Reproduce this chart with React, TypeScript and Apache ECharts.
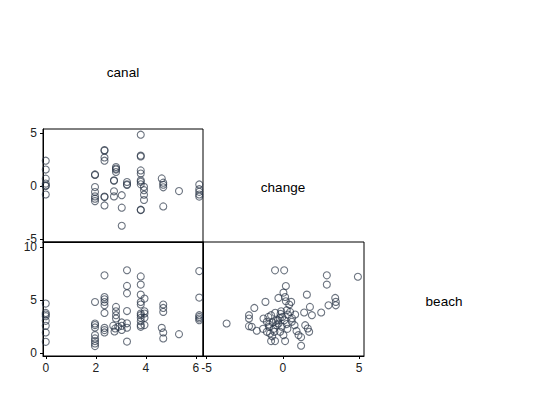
import React, { useEffect, useRef } from "react";
import * as echarts from "echarts";

const variables = ["canal", "change", "beach"];
const canalTicks = [0, 2, 4, 6];
const changeTicks = [-5, 0, 5];
const beachTicks = [0, 5, 10];

// change (y) vs canal (x)
const canalChange: [number, number][] = [
  [0, 2.4], [0, 1.56], [0, 0.7], [0, 0.23], [0, 0], [0, 0.05], [0, -0.8],
  [1.97, 1.1], [1.97, 1.05], [1.97, -0.1], [1.97, -0.57], [1.97, -0.98], [1.97, -1.2], [1.97, -1.43],
  [2.35, 3.4], [2.35, 3.35], [2.35, 2.7], [2.35, 2.4], [2.35, -1.05], [2.35, -1.0], [2.35, -1.84],
  [2.73, 0.54], [2.73, 0.5], [2.73, -0.5], [2.73, -0.98],
  [2.81, 1.8], [2.81, 1.65], [2.81, 1.56], [2.81, 1.33],
  [3.04, -0.87], [3.04, -2.05], [3.04, -3.76],
  [3.25, 0.38], [3.25, 0.16], [3.25, 0.1],
  [3.8, 4.86], [3.8, 2.88], [3.8, 2.8], [3.8, 1.48], [3.8, 1.18], [3.8, 0.55], [3.8, 0.4], [3.8, 0.16], [3.8, -2.28], [3.8, -2.24],
  [3.93, -0.08], [3.93, -0.39], [3.93, -0.82], [3.93, -1.32],
  [4.64, 0.72], [4.7, 0.32], [4.7, 0.12], [4.7, -0.12], [4.7, -1.93],
  [5.33, -0.48],
  [6.14, 0.15], [6.14, -0.3], [6.14, -0.55], [6.14, -0.8], [6.14, -1.0],
];

// beach (y) vs canal (x)
const canalBeach: [number, number][] = [
  [0, 4.67], [0, 3.79], [0, 3.64], [0, 3.49], [0, 3.05], [0, 2.58], [0, 1.96], [0, 1.08],
  [1.97, 4.82], [1.97, 2.8], [1.97, 2.65], [1.97, 2.43], [1.97, 1.71], [1.97, 1.4], [1.97, 1.15], [1.97, 0.93], [1.97, 0.68],
  [2.35, 7.32], [2.35, 5.29], [2.35, 5.07], [2.35, 4.82], [2.35, 4.51], [2.35, 3.79], [2.35, 2.39], [2.35, 2.18], [2.35, 1.96],
  [2.81, 4.36], [2.81, 3.95], [2.81, 3.58], [2.81, 3.27],
  [2.7, 2.6], [2.78, 2.34], [2.9, 2.49], [3.04, 2.9], [3.04, 2.58], [3.04, 2.2], [2.75, 2.05],
  [3.25, 7.8], [3.25, 6.33], [3.25, 5.63], [3.25, 3.97], [3.25, 2.82], [3.25, 2.4], [3.25, 1.1],
  [3.8, 7.22], [3.8, 6.45], [3.8, 5.51], [3.8, 4.82], [3.8, 4.58], [3.8, 3.74], [3.8, 3.58], [3.8, 3.33], [3.8, 3.02], [3.8, 2.65], [3.8, 2.49],
  [3.95, 5.14], [3.95, 3.95], [3.95, 3.74], [3.95, 3.33], [3.95, 2.65],
  [4.7, 4.58], [4.7, 4.26], [4.7, 3.89], [4.64, 2.39], [4.7, 1.96], [4.7, 1.4],
  [5.33, 1.8],
  [6.14, 7.72], [6.14, 5.23], [6.14, 3.58], [6.14, 3.42], [6.14, 3.27], [6.14, 3.11],
];

// beach (y) vs change (x)
const changeBeach: [number, number][] = [
  [-3.69, 2.8], [-2.22, 3.58], [-2.22, 3.27], [-2.22, 2.55], [-2.04, 2.49], [-1.87, 4.26], [-1.71, 2.12],
  [-1.14, 4.83], [-1.27, 3.27], [-1.05, 2.96], [-0.95, 3.42], [-0.9, 2.49], [-0.77, 3.58], [-0.66, 2.89],
  [-0.77, 1.15], [-0.51, 1.15], [-0.55, 2.02], [-0.33, 3.11], [-0.29, 5.2], [-0.11, 3.95], [-0.03, 3.42],
  [0.04, 5.7], [0.15, 5.29], [0.2, 6.32], [0.2, 4.89], [0.26, 4.05], [0.33, 3.64], [0.42, 4.58],
  [0.48, 3.89], [0.55, 4.83], [0.59, 2.96], [0.77, 2.64], [0.81, 3.64], [1.03, 1.71], [1.2, 1.52],
  [1.2, 0.71], [1.4, 3.83], [1.47, 2.64], [1.58, 5.51], [1.64, 2.33], [1.73, 2.02], [1.78, 4.36],
  [1.91, 3.58], [2.52, 3.83], [2.89, 7.32], [2.89, 6.45], [3.0, 4.51], [3.44, 5.2], [3.48, 4.83],
  [3.48, 4.51], [4.93, 7.19], [-0.51, 7.79], [0.09, 7.79], [-0.18, 2.02], [0.04, 1.71], [0.15, 1.15],
  [-0.84, 1.87], [-1.05, 2.02], [-0.07, 2.49], [-0.4, 2.64], [-0.29, 2.8], [-0.6, 2.3], [-0.2, 3.3],
  [0.3, 2.3], [-0.9, 2.7], [0.1, 3.1], [-0.5, 3.8], [0.6, 3.3], [-1.3, 2.3], [0.9, 2.1], [-0.7, 1.6],
  [-0.45, 3.05], [0.25, 2.75], [-0.15, 3.7],
];

const FONT = "'Liberation Sans', Arial, sans-serif";

function valueAxis(
  gridIndex: number,
  min: number,
  max: number,
  ticks: number[] | null,
  labels: boolean
) {
  return {
    type: "value",
    gridIndex,
    min,
    max,
    splitLine: { show: false },
    axisLine: { show: true, onZero: false, lineStyle: { color: "#000", width: 1 } },
    axisTick: ticks
      ? { show: true, length: 3, customValues: ticks, lineStyle: { color: "#000" } }
      : { show: false },
    axisLabel: ticks && labels
      ? { show: true, customValues: ticks, fontSize: 12, fontFamily: FONT, color: "#222", margin: 6 }
      : { show: false },
  };
}

const symbolStyle = {
  color: "rgba(0,0,0,0)",
  borderColor: "rgba(38,50,68,0.85)",
  borderWidth: 1.1,
};

export default function App() {
  const ref = useRef<HTMLDivElement>(null);
  useEffect(() => {
    if (!ref.current) return;
    const chart = echarts.init(ref.current, null, { renderer: "svg" });
    const gridBase = { show: true, borderColor: "#000", borderWidth: 1, backgroundColor: "#fff" };
    const option = {
      animation: false,
      backgroundColor: "#fff",
      grid: [
        { ...gridBase, left: 43, top: 129, width: 160, height: 113 },
        { ...gridBase, left: 43, top: 242, width: 160, height: 114 },
        { ...gridBase, left: 203, top: 242, width: 161, height: 114 },
      ],
      xAxis: [
        valueAxis(0, -0.11, 6.29, null, false),
        valueAxis(1, -0.11, 6.29, canalTicks, true),
        valueAxis(2, -5.24, 5.33, changeTicks, true),
      ],
      yAxis: [
        valueAxis(0, -5.3, 5.4, changeTicks, true),
        valueAxis(1, -0.25, 10.45, beachTicks, true),
        valueAxis(2, -0.25, 10.45, null, false),
      ],
      series: [
        { type: "scatter", xAxisIndex: 0, yAxisIndex: 0, data: canalChange, symbol: "circle", symbolSize: 7, itemStyle: symbolStyle },
        { type: "scatter", xAxisIndex: 1, yAxisIndex: 1, data: canalBeach, symbol: "circle", symbolSize: 7, itemStyle: symbolStyle },
        { type: "scatter", xAxisIndex: 2, yAxisIndex: 2, data: changeBeach, symbol: "circle", symbolSize: 7, itemStyle: symbolStyle },
      ],
      graphic: [
        [123, 72],
        [283, 187],
        [444, 301],
      ].map(([x, y], i) => ({
        type: "text",
        x,
        y,
        style: {
          text: variables[i],
          fontSize: 13.5,
          fontFamily: FONT,
          fill: "#000",
          align: "center",
          verticalAlign: "middle",
          textAlign: "center",
          textVerticalAlign: "middle",
        },
      })),
    };
    chart.setOption(option as any);
    return () => chart.dispose();
  }, []);
  return (
    <div
      ref={ref}
      style={{ position: "absolute", left: 0, top: 0, width: 540, height: 393 }}
    />
  );
}
